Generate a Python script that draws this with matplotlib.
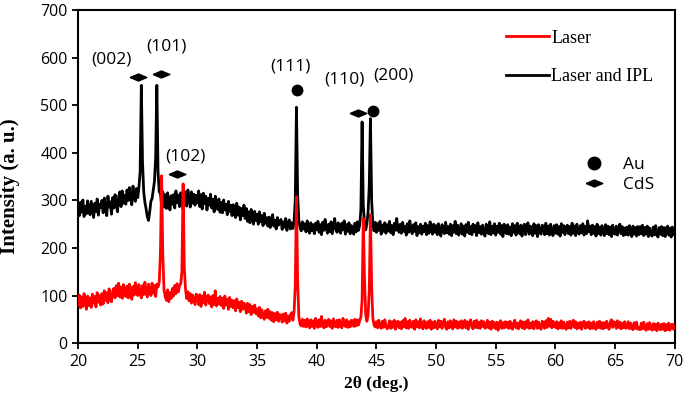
import numpy as np
import matplotlib.pyplot as plt
from matplotlib.lines import Line2D

# 2-theta grid, 0.1 deg steps from 20 to 70
two_theta = np.linspace(20, 70, 501)

# Laser and IPL (black), one row per degree
laser_ipl = [
    290, 268, 296, 275, 301, 266, 288, 272, 299, 279,  # 20
    270, 298, 281, 264, 294, 276, 303, 269, 292, 285,  # 21
    300, 274, 305, 283, 268, 309, 286, 297, 271, 306,  # 22
    284, 312, 293, 276, 308, 318, 287, 320, 294, 311,  # 23
    292, 322, 300, 327, 306, 291, 330, 305, 298, 325,  # 24
    306, 328, 360, 542, 380, 318, 296, 282, 266, 258,  # 25
    276, 298, 304, 322, 340, 390, 542, 360, 318, 315,  # 26
    290, 318, 286, 312, 283, 316, 297, 280, 310, 292,  # 27
    312, 284, 320, 295, 311, 287, 316, 300, 281, 319,  # 28
    297, 288, 322, 306, 286, 318, 294, 313, 290, 311,  # 29
    295, 320, 287, 312, 282, 315, 293, 309, 280, 304,  # 30
    290, 313, 284, 302, 276, 309, 289, 281, 303, 275,  # 31
    296, 274, 301, 280, 292, 270, 298, 277, 290, 268,  # 32
    291, 272, 264, 294, 269, 286, 259, 283, 268, 290,  # 33
    262, 283, 256, 276, 253, 281, 263, 250, 277, 258,  # 34
    271, 250, 276, 255, 268, 247, 273, 252, 264, 246,  # 35
    265, 243, 259, 270, 246, 258, 240, 264, 248, 253,  # 36
    260, 239, 255, 244, 262, 237, 251, 259, 240, 253,  # 37
    241, 256, 300, 496, 310, 258, 243, 236, 255, 240,  # 38
    251, 234, 257, 239, 231, 253, 236, 249, 230, 252,  # 39
    238, 256, 233, 249, 228, 254, 237, 260, 243, 231,  # 40
    250, 234, 255, 230, 246, 262, 239, 233, 253, 236,  # 41
    231, 252, 238, 257, 229, 249, 235, 253, 230, 247,  # 42
    240, 229, 252, 234, 255, 237, 248, 280, 465, 290,  # 43
    252, 238, 250, 275, 330, 472, 300, 252, 236, 254,  # 44
    233, 251, 237, 256, 229, 248, 235, 253, 231, 249,  # 45
    236, 256, 232, 247, 228, 252, 237, 262, 240, 233,  # 46
    250, 231, 254, 235, 246, 227, 251, 233, 257, 238,  # 47
    230, 249, 235, 253, 226, 245, 232, 250, 229, 246,  # 48
    234, 252, 228, 247, 231, 255, 238, 229, 250, 233,  # 49
    247, 228, 251, 233, 225, 249, 236, 230, 254, 232,  # 50
    245, 229, 250, 226, 247, 233, 256, 230, 248, 227,  # 51
    236, 251, 229, 246, 225, 249, 233, 254, 230, 245,  # 52
    228, 250, 234, 247, 226, 253, 232, 245, 229, 248,  # 53
    233, 225, 250, 236, 230, 255, 228, 246, 232, 251,  # 54
    227, 246, 233, 252, 229, 247, 224, 250, 234, 230,  # 55
    249, 229, 244, 226, 251, 233, 247, 227, 252, 234,  # 56
    230, 248, 225, 245, 250, 228, 243, 253, 229, 246,  # 57
    233, 226, 251, 231, 247, 224, 249, 234, 229, 248,  # 58
    245, 228, 252, 230, 246, 227, 250, 232, 226, 247,  # 59
    231, 249, 229, 245, 225, 251, 233, 247, 228, 244,  # 60
    248, 230, 245, 227, 252, 231, 246, 226, 250, 233,  # 61
    229, 247, 232, 251, 227, 245, 230, 257, 234, 246,  # 62
    228, 248, 231, 245, 225, 250, 230, 244, 227, 247,  # 63
    233, 226, 249, 230, 246, 228, 244, 224, 248, 231,  # 64
    229, 246, 227, 243, 250, 230, 245, 226, 242, 228,  # 65
    244, 227, 247, 230, 224, 246, 229, 243, 225, 245,  # 66
    228, 245, 230, 248, 226, 243, 229, 246, 224, 242,  # 67
    230, 225, 244, 228, 247, 227, 223, 243, 229, 245,  # 68
    226, 243, 224, 241, 246, 227, 242, 223, 244, 228,  # 69
    240,
]

# Laser (red)
laser = [
    80, 101, 74, 97, 77, 104, 85, 71, 99, 79,  # 20
    95, 75, 103, 84, 98, 76, 106, 86, 100, 80,  # 21
    104, 82, 110, 90, 106, 85, 114, 93, 87, 109,  # 22
    115, 95, 121, 100, 126, 97, 118, 94, 123, 102,  # 23
    98, 120, 95, 124, 104, 92, 119, 101, 127, 107,  # 24
    100, 123, 105, 95, 121, 102, 128, 107, 97, 124,  # 25
    109, 100, 126, 105, 121, 98, 124, 118, 128, 190,  # 26
    352, 185, 112, 98, 90, 112, 87, 106, 94, 115,  # 27
    99, 121, 104, 125, 108, 120, 125, 150, 335, 160,  # 28
    114, 94, 108, 89, 104, 84, 101, 91, 81, 103,  # 29
    96, 81, 102, 77, 99, 85, 107, 80, 95, 101,  # 30
    83, 97, 76, 100, 81, 110, 78, 94, 82, 98,  # 31
    79, 94, 73, 99, 80, 92, 71, 96, 77, 90,  # 32
    74, 89, 68, 93, 75, 86, 66, 88, 71, 84,  # 33
    78, 63, 84, 66, 81, 60, 77, 65, 80, 62,  # 34
    72, 57, 75, 53, 70, 56, 50, 68, 54, 71,  # 35
    52, 66, 48, 64, 45, 62, 49, 65, 46, 60,  # 36
    59, 44, 61, 47, 63, 42, 57, 46, 60, 64,  # 37
    48, 66, 120, 308, 130, 56, 40, 36, 50, 35,  # 38
    48, 34, 51, 37, 32, 49, 35, 47, 31, 52,  # 39
    45, 33, 49, 35, 56, 36, 32, 48, 34, 46,  # 40
    50, 35, 47, 31, 51, 37, 34, 48, 33, 49,  # 41
    36, 32, 52, 38, 35, 49, 33, 45, 34, 48,  # 42
    47, 35, 50, 36, 49, 38, 47, 55, 90, 262,  # 43
    140, 60, 46, 58, 110, 270, 120, 53, 38, 34,  # 44
    45, 32, 48, 35, 31, 46, 33, 49, 36, 30,  # 45
    34, 47, 31, 45, 33, 48, 29, 43, 46, 32,  # 46
    44, 30, 47, 34, 52, 32, 45, 31, 48, 35,  # 47
    33, 46, 29, 49, 34, 45, 32, 51, 35, 30,  # 48
    47, 34, 31, 45, 33, 48, 29, 44, 32, 46,  # 49
    35, 30, 48, 34, 46, 31, 44, 50, 33, 29,  # 50
    45, 32, 47, 35, 30, 49, 34, 46, 31, 44,  # 51
    33, 47, 31, 44, 48, 32, 45, 29, 43, 49,  # 52
    34, 30, 46, 33, 48, 32, 44, 31, 47, 35,  # 53
    45, 31, 34, 48, 32, 44, 29, 46, 33, 43,  # 54
    30, 44, 27, 42, 47, 31, 43, 32, 45, 33,  # 55
    44, 31, 46, 33, 29, 43, 48, 32, 42, 30,  # 56
    43, 47, 32, 44, 30, 45, 33, 49, 31, 42,  # 57
    32, 45, 30, 43, 47, 31, 44, 33, 29, 46,  # 58
    42, 31, 47, 33, 52, 36, 50, 32, 46, 35,  # 59
    33, 45, 30, 43, 32, 47, 31, 44, 34, 29,  # 60
    44, 32, 46, 31, 43, 48, 33, 45, 30, 42,  # 61
    32, 44, 29, 42, 46, 31, 43, 33, 45, 30,  # 62
    42, 31, 45, 32, 29, 44, 33, 46, 31, 43,  # 63
    30, 43, 32, 46, 34, 29, 44, 49, 33, 45,  # 64
    43, 31, 47, 33, 44, 30, 42, 32, 45, 31,  # 65
    33, 45, 30, 42, 32, 28, 43, 31, 44, 29,  # 66
    32, 28, 42, 30, 44, 31, 27, 41, 29, 43,  # 67
    31, 27, 41, 29, 40, 26, 42, 30, 28, 40,  # 68
    29, 41, 26, 39, 28, 42, 27, 38, 40, 29,  # 69
    36,
]

# phase markers above the peaks
cds_x = [25.0, 26.98, 28.3, 43.42]
cds_y = [559, 565, 356, 484]
au_x = [38.32, 44.68]
au_y = [533, 488]

# reflection labels
hkl_labels = ["(002)", "(101)", "(102)", "(111)", "(110)", "(200)"]
hkl_x = [22.8, 27.4, 28.96, 37.8, 42.3, 46.45]
hkl_y = [596, 623, 392, 581, 555, 563]

diamond = [(-1, 0), (0, 0.42), (1, 0), (0, -0.42), (-1, 0)]

fig = plt.figure(figsize=(6.85, 4.07), dpi=100)
ax = fig.add_axes([0.114, 0.157, 0.871, 0.818])

ax.plot(two_theta, laser_ipl, color="black", lw=2.0, label="Laser and IPL", zorder=2)
ax.plot(two_theta, laser, color="red", lw=2.0, label="Laser", zorder=3)

ax.plot(cds_x, cds_y, ls="none", marker=diamond, ms=12, color="black", zorder=4)
ax.plot(au_x, au_y, ls="none", marker="o", ms=7.5, color="black", zorder=4)

for t, x, y in zip(hkl_labels, hkl_x, hkl_y):
    ax.text(x, y, t, ha="center", va="center", fontsize=12.5, family="Open Sans")

ax.set_xlim(20, 70)
ax.set_ylim(0, 700)
ax.set_xticks(range(20, 71, 5))
ax.set_yticks(range(0, 701, 100))

for s in ax.spines.values():
    s.set_linewidth(1.5)
ax.tick_params(direction="out", length=4.5, width=1.3, labelsize=11.5, pad=3)
for lab in ax.get_xticklabels() + ax.get_yticklabels():
    lab.set_family("Open Sans")

ax.set_xlabel("2θ (deg.)", family="Liberation Serif", fontweight="bold", fontsize=12.5)
ax.set_ylabel("Intensity (a. u.)", family="Liberation Serif", fontweight="bold", fontsize=15)
ax.xaxis.set_label_coords(0.5, -0.1)
ax.yaxis.set_label_coords(-0.097, 0.47)

h, l = ax.get_legend_handles_labels()
leg1 = ax.legend([h[1], h[0]], [l[1], l[0]], loc="upper left", bbox_to_anchor=(0.69, 0.99),
                 frameon=False, prop={"family": "Liberation Serif", "size": 13},
                 handlelength=2.4, handletextpad=0.1, labelspacing=1.2)
ax.add_artist(leg1)

phase_handles = [Line2D([], [], ls="none", marker="o", ms=9, color="black"),
                 Line2D([], [], ls="none", marker=diamond, ms=12, color="black")]
ax.legend(phase_handles, ["Au", "CdS"], loc="upper left", bbox_to_anchor=(0.817, 0.605),
          frameon=False, prop={"family": "Open Sans", "size": 12.5},
          handlelength=1.5, handletextpad=0.9, labelspacing=0.2)

fig.savefig("out.png", dpi=100)
